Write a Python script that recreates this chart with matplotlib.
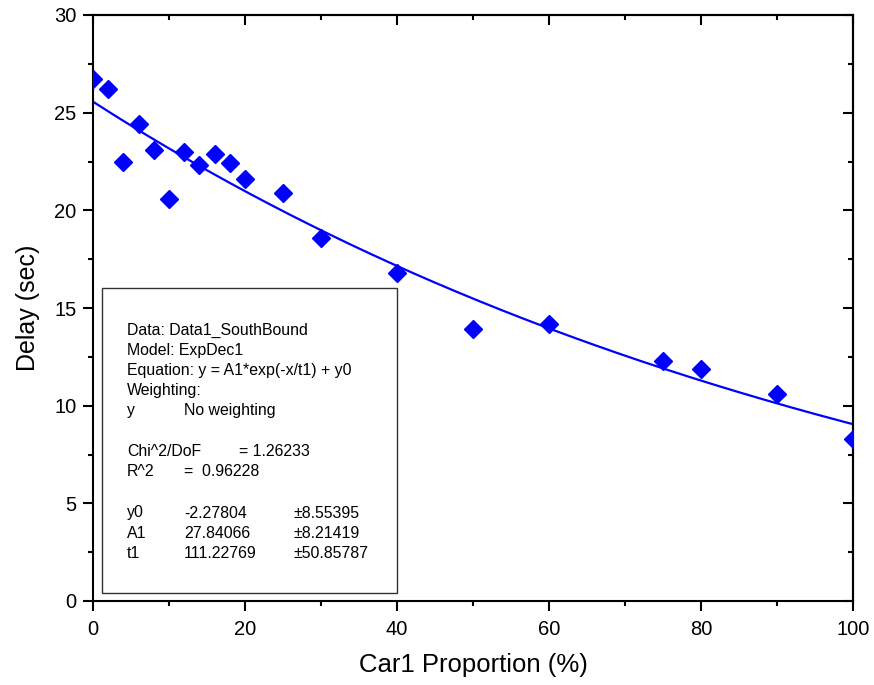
import numpy as np
import matplotlib
matplotlib.use("Agg")
import matplotlib.pyplot as plt
from matplotlib.ticker import MultipleLocator

plt.rcParams["font.family"] = ["Liberation Sans", "DejaVu Sans"]

# measured delay vs. share of Car1
proportion = [0, 2, 4, 6, 8, 10, 12, 14, 16, 18, 20, 25, 30, 40, 50, 60, 75, 80, 90, 100]
delay = [26.7, 26.2, 22.5, 24.4, 23.1, 20.6, 23.0, 22.3, 22.9, 22.4, 21.6, 20.9,
         18.6, 16.8, 13.9, 14.2, 12.3, 11.9, 10.6, 8.3]

# ExpDec1 fit parameters
y0, A1, t1 = -2.27804, 27.84066, 111.22769
y0_err, A1_err, t1_err = 8.55395, 8.21419, 50.85787
chi2_dof = 1.26233
r2 = 0.96228

fig = plt.figure(figsize=(8.74, 6.85), dpi=100)
ax = fig.add_axes([93 / 874, 1 - 601 / 685, 760 / 874, 586 / 685])

xf = np.linspace(0, 100, 300)
ax.plot(xf, A1 * np.exp(-xf / t1) + y0, color="#0000ff", lw=1.6, zorder=2)
ax.plot(proportion, delay, ls="none", marker="D", ms=8.8, color="#0000ff",
        mec="#0000ff", zorder=3)

ax.set_xlim(0, 100)
ax.set_ylim(0, 30)
ax.xaxis.set_major_locator(MultipleLocator(20))
ax.xaxis.set_minor_locator(MultipleLocator(10))
ax.yaxis.set_major_locator(MultipleLocator(5))
ax.yaxis.set_minor_locator(MultipleLocator(2.5))

for s in ax.spines.values():
    s.set_linewidth(1.5)
ax.tick_params(which="both", direction="out", width=1.5, labelsize=14.5,
               top=False, right=False)
ax.tick_params(which="major", length=7)
ax.tick_params(which="minor", length=3.6)
ax.tick_params(axis="x", which="major", pad=7)
ax.tick_params(axis="y", which="major", pad=5)

# inward mirror ticks on top/right
for pos in ("top", "right"):
    sec = ax.secondary_xaxis("top") if pos == "top" else ax.secondary_yaxis("right")
    axis = sec.xaxis if pos == "top" else sec.yaxis
    axis.set_major_locator(MultipleLocator(20 if pos == "top" else 5))
    axis.set_minor_locator(MultipleLocator(10 if pos == "top" else 2.5))
    sec.tick_params(which="both", direction="in", width=1.5, labelleft=False,
                    labelright=False, labeltop=False, labelbottom=False)
    sec.tick_params(which="major", length=7)
    sec.tick_params(which="minor", length=3.6)
    sec.spines[pos].set_linewidth(1.5)

ax.set_xlabel("Car1 Proportion (%)", fontsize=18.5, labelpad=10)
ax.set_ylabel("Delay (sec)", fontsize=18, labelpad=10)

# fit report box
box = plt.Rectangle((102 / 874, 1 - 593 / 685), 295 / 874, 305 / 685,
                    transform=fig.transFigure, facecolor="white",
                    edgecolor="#333333", lw=1.0, zorder=4)
fig.add_artist(box)

fs = 11.4
c1, c2, c3 = 127, 184, 294


def put(px, py, s):
    fig.text(px / 874, 1 - py / 685, s, fontsize=fs, va="center", ha="left",
             zorder=5)


put(c1, 330, "Data: Data1_SouthBound")
put(c1, 350, "Model: ExpDec1")
put(c1, 370, "Equation: y = A1*exp(-x/t1) + y0")
put(c1, 390, "Weighting:")
put(c1, 411, "y")
put(c2, 411, "No weighting")
put(c1, 452, "Chi^2/DoF")
put(239, 452, f"= {chi2_dof:.5f}")
put(c1, 472, "R^2")
put(c2, 472, f"=  {r2:.5f}")
rows = [("y0", y0, y0_err), ("A1", A1, A1_err), ("t1", t1, t1_err)]
for i, (name, val, err) in enumerate(rows):
    yy = 513 + i * 20.5
    put(c1, yy, name)
    put(c2, yy, f"{val:.5f}")
    put(c3, yy, f"±{err:.5f}")

fig.savefig("out.png", dpi=100)
